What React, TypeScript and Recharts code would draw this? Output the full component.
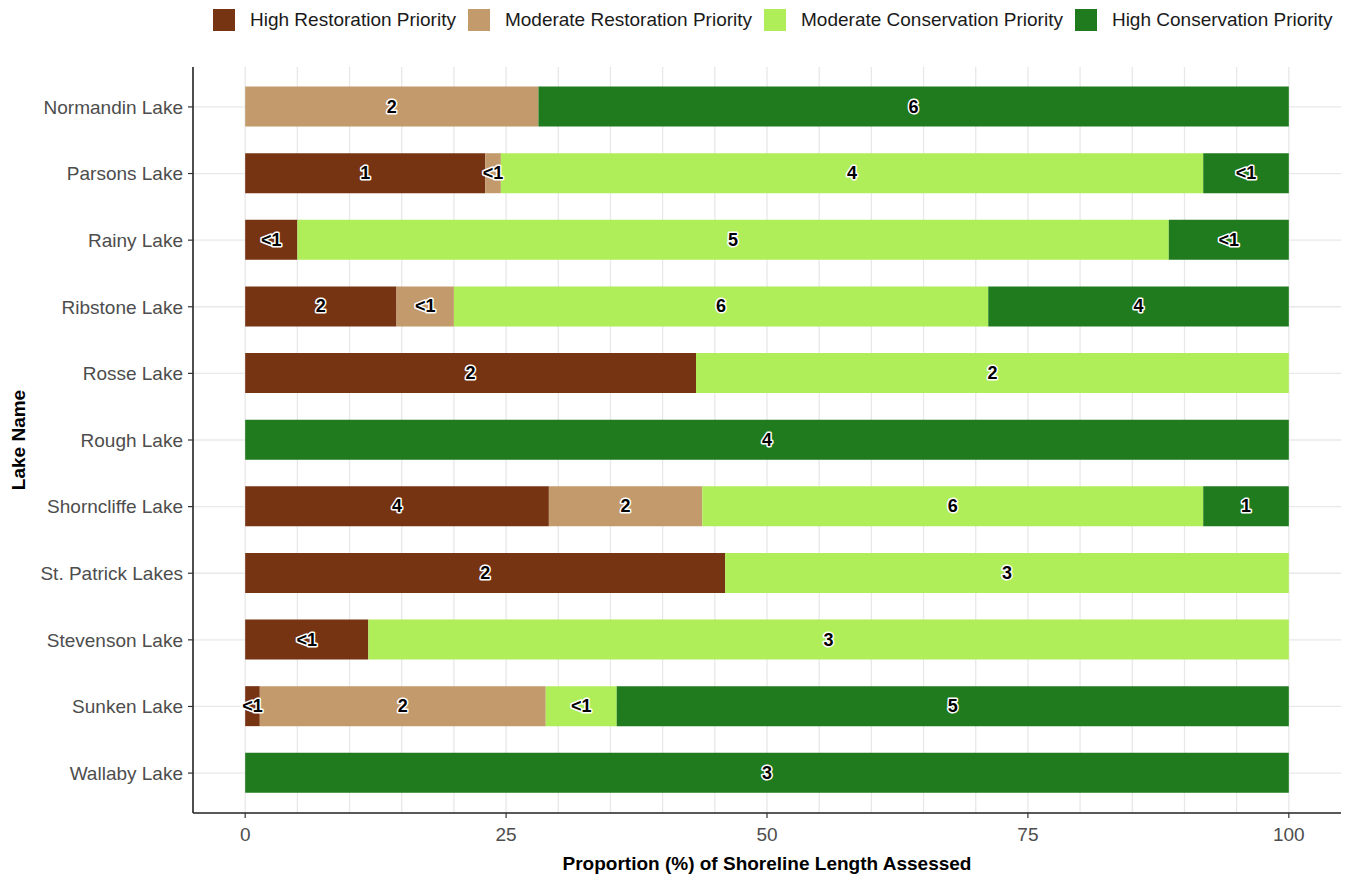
import React from 'react'
import {
  BarChart, Bar, XAxis, YAxis, CartesianGrid, Legend, LabelList,
} from 'recharts'

const lakes = [
  'Normandin Lake', 'Parsons Lake', 'Rainy Lake', 'Ribstone Lake', 'Rosse Lake',
  'Rough Lake', 'Shorncliffe Lake', 'St. Patrick Lakes', 'Stevenson Lake',
  'Sunken Lake', 'Wallaby Lake',
]

// proportion (%) of shoreline length per class
const highRestPct = [0, 23.0, 5.0, 14.5, 43.2, 0, 29.1, 46.0, 11.8, 1.4, 0]
const modRestPct  = [28.1, 1.5, 0, 5.5, 0, 0, 14.7, 0, 0, 27.4, 0]
const modConsPct  = [0, 67.3, 83.5, 51.2, 56.8, 0, 48.0, 54.0, 88.2, 6.8, 0]
const highConsPct = [71.9, 8.2, 11.5, 28.8, 0, 100, 8.2, 0, 0, 64.4, 100]

// segment labels (shoreline length, km)
const highRestLbl = ['', '1', '<1', '2', '2', '', '4', '2', '<1', '<1', '']
const modRestLbl  = ['2', '<1', '', '<1', '', '', '2', '', '', '2', '']
const modConsLbl  = ['', '4', '5', '6', '2', '', '6', '3', '3', '<1', '']
const highConsLbl = ['6', '<1', '<1', '4', '', '4', '1', '', '', '5', '3']

const xTicks = [0, 5, 10, 15, 20, 25, 30, 35, 40, 45, 50, 55, 60, 65, 70, 75, 80, 85, 90, 95, 100]
const labelledTicks = [0, 25, 50, 75, 100]

const FONT = '"Liberation Sans", Arial, Helvetica, sans-serif'

const series = [
  { key: 'highRest', name: 'High Restoration Priority',      color: '#773413' },
  { key: 'modRest',  name: 'Moderate Restoration Priority',  color: '#C29A6B' },
  { key: 'modCons',  name: 'Moderate Conservation Priority', color: '#AFEE58' },
  { key: 'highCons', name: 'High Conservation Priority',     color: '#1F7B1E' },
]

const data = lakes.map((lake, i) => ({
  lake,
  highRest: highRestPct[i],
  modRest:  modRestPct[i],
  modCons:  modConsPct[i],
  highCons: highConsPct[i],
  highRestLbl: highRestLbl[i],
  modRestLbl:  modRestLbl[i],
  modConsLbl:  modConsLbl[i],
  highConsLbl: highConsLbl[i],
}))

const renderBarLabel = (props: any) => {
  const { x, y, width, height, value } = props
  if (!value) return null
  return (
    <text
      x={x + width / 2}
      y={y + height / 2}
      textAnchor="middle"
      dominantBaseline="central"
      fontFamily={FONT}
      fontSize={18}
      fontWeight={700}
      fill="#000"
      stroke="#fff"
      strokeWidth={3}
      strokeLinejoin="round"
      paintOrder="stroke"
    >
      {value}
    </text>
  )
}

const XTick = (props: any) => {
  const { x, y, payload } = props
  if (!labelledTicks.includes(payload.value)) return <g />
  return (
    <g>
      <line x1={x} x2={x} y1={y} y2={y + 5} stroke="#333" strokeWidth={1.2} />
      <text x={x} y={y + 21} textAnchor="middle" dominantBaseline="central"
        fontFamily={FONT} fontSize={19} fill="#4d4d4d">
        {payload.value}
      </text>
    </g>
  )
}

// legend drawn in series order (recharts would sort it by name)
const renderLegend = () => (
  <div style={{ display: 'flex', alignItems: 'center', paddingLeft: 213, paddingTop: 8, height: 24 }}>
    {series.map(s => (
      <div key={s.key} style={{ display: 'flex', alignItems: 'center', marginRight: 12 }}>
        <div style={{ width: 22, height: 22, background: s.color, marginRight: 15 }} />
        <span style={{ fontFamily: FONT, fontSize: 19, color: '#1a1a1a', whiteSpace: 'nowrap' }}>
          {s.name}
        </span>
      </div>
    ))}
  </div>
)

export default function App() {
  return (
    <div style={{ position: 'absolute', left: 0, top: 0, background: '#fff' }}>
      <BarChart
        width={1353}
        height={877}
        data={data}
        layout="vertical"
        margin={{ top: 35, right: 12, bottom: 0, left: 0 }}
      >
        <CartesianGrid stroke="#e8e8e8" strokeWidth={1.3} syncWithTicks />
        <XAxis
          type="number"
          domain={[-5, 105]}
          ticks={xTicks}
          interval={0}
          height={64}
          tickSize={0}
          tickMargin={0}
          tickLine={false}
          tick={<XTick />}
          axisLine={{ stroke: '#222', strokeWidth: 1.6 }}
          label={{
            content: () => (
              <text x={767} y={863} textAnchor="middle" dominantBaseline="central"
                fontFamily={FONT} fontSize={19} fontWeight={700} fill="#000">
                Proportion (%) of Shoreline Length Assessed
              </text>
            ),
          }}
        />
        <YAxis
          type="category"
          dataKey="lake"
          width={193}
          padding={{ top: 6.6, bottom: 6.6 }}
          tickSize={5}
          tickMargin={5}
          tickLine={{ stroke: '#333', strokeWidth: 1.2 }}
          axisLine={{ stroke: '#222', strokeWidth: 1.6 }}
          tick={{ fontFamily: FONT, fontSize: 19, fill: '#4d4d4d' }}
          label={{
            content: () => (
              <text x={18} y={440} textAnchor="middle" dominantBaseline="central"
                transform="rotate(-90 18 440)"
                fontFamily={FONT} fontSize={19} fontWeight={700} fill="#000">
                Lake Name
              </text>
            ),
          }}
        />
        <Legend
          verticalAlign="top"
          align="left"
          content={renderLegend}
          wrapperStyle={{ top: 0, left: 0, width: 1353 }}
        />
        {series.map(s => (
          <Bar
            key={s.key}
            dataKey={s.key}
            name={s.name}
            stackId="a"
            fill={s.color}
            barSize={40}
            isAnimationActive={false}
          >
            <LabelList dataKey={`${s.key}Lbl`} content={renderBarLabel} />
          </Bar>
        ))}
      </BarChart>
    </div>
  )
}
